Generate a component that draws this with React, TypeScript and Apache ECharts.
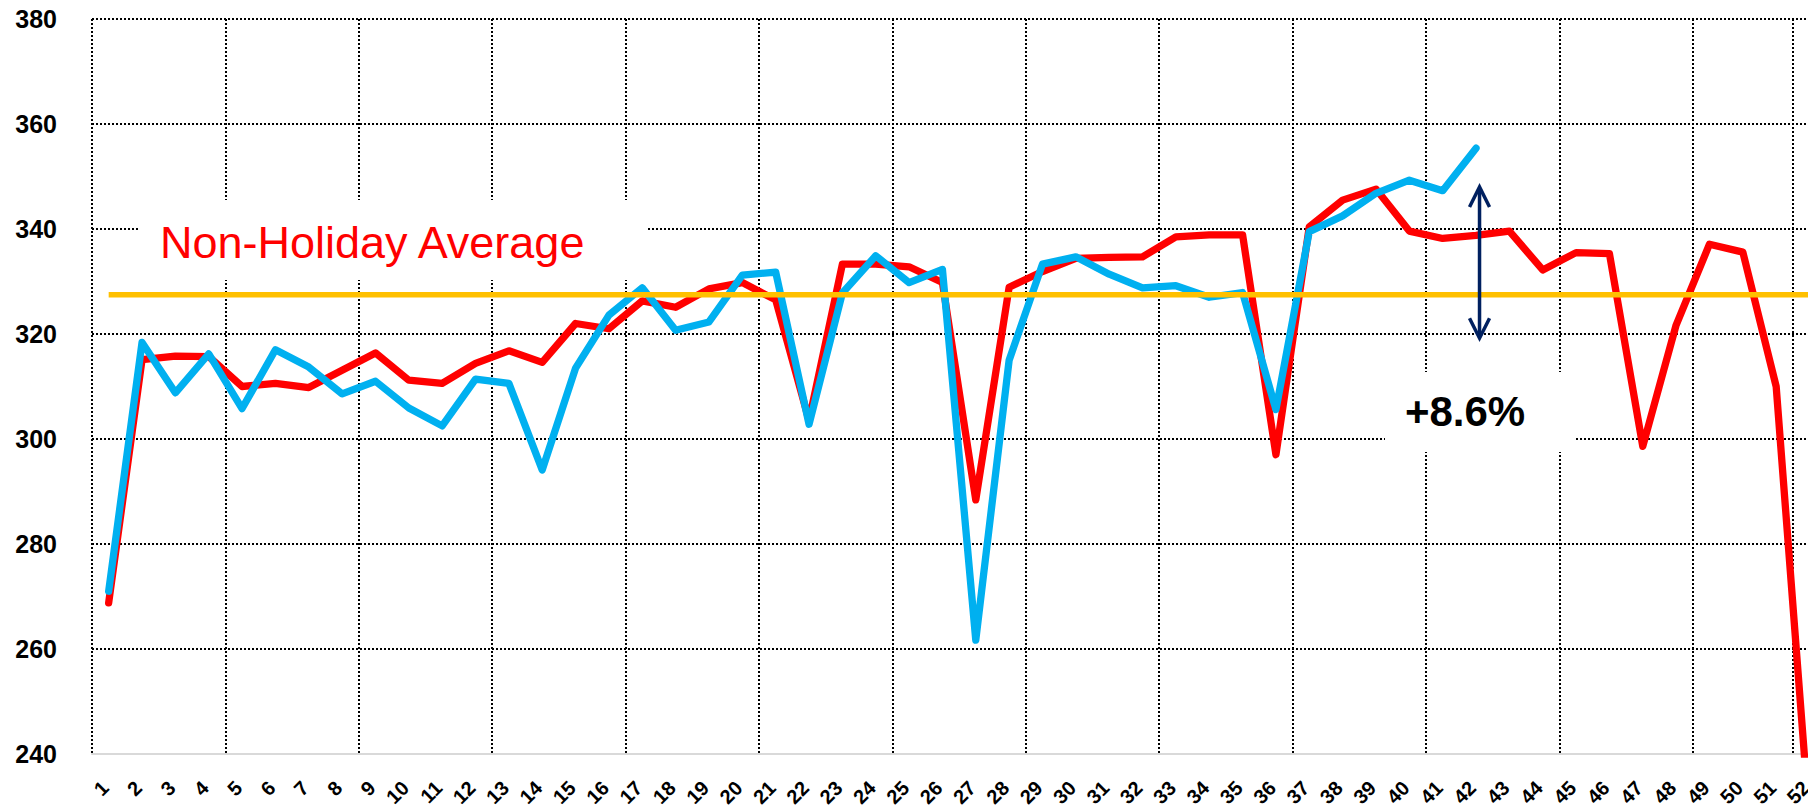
import { useEffect, useRef } from "react";
import * as echarts from "echarts";

const WEEKS = [
  "1", "2", "3", "4", "5", "6", "7", "8", "9", "10", "11", "12", "13",
  "14", "15", "16", "17", "18", "19", "20", "21", "22", "23", "24", "25", "26",
  "27", "28", "29", "30", "31", "32", "33", "34", "35", "36", "37", "38", "39",
  "40", "41", "42", "43", "44", "45", "46", "47", "48", "49", "50", "51", "52",
];

const PRIOR_YEAR = [
  268.8, 315.1, 315.8, 315.7, 310.0, 310.6, 309.8, 313.1, 316.4, 311.2, 310.6, 314.4, 316.8,
  314.6, 322.0, 321.0, 326.3, 325.1, 328.6, 329.8, 326.5, 303.5, 333.3, 333.3, 332.8, 329.8,
  288.4, 328.9, 331.9, 334.4, 334.6, 334.7, 338.5, 338.9, 338.9, 297.0, 340.4, 345.5, 347.6,
  339.6, 338.2, 338.8, 339.6, 332.2, 335.5, 335.3, 298.6, 321.7, 337.1, 335.6, 310.0, 227.0,
];

const CURRENT_YEAR = [
  271.0, 318.4, 308.8, 316.2, 305.8, 317.0, 313.7, 308.6, 311.0, 305.9, 302.5, 311.4, 310.6,
  294.1, 313.5, 323.6, 328.8, 320.7, 322.3, 331.2, 331.8, 302.8, 327.8, 334.9, 329.8, 332.3,
  261.7, 315.0, 333.3, 334.7, 331.4, 328.8, 329.2, 327.0, 327.9, 305.6, 339.5, 342.5, 346.8,
  349.3, 347.3, 355.4,
];

const NON_HOLIDAY_AVERAGE = 327.5;
const Y_MIN = 240;
const Y_MAX = 380;
const Y_STEP = 20;

const AVG_LABEL = "Non-Holiday Average";
const CHANGE_LABEL = "+8.6%";
const ARROW_WEEK = "42";
const ARROW_TOP = 348;
const ARROW_BOTTOM = 319.2;

const FONT = "'Liberation Sans', Arial, sans-serif";
const CHART_W = 1840;
const CHART_H = 810;
const BAND = 33.35;

export default function App() {
  const ref = useRef<HTMLDivElement>(null);

  useEffect(() => {
    if (!ref.current) return;
    const chart = echarts.init(ref.current, null, { renderer: "svg" });
    const gridLeft = 92;
    const gridRight = CHART_W - gridLeft - WEEKS.length * BAND;
    const dotted = { color: "#000", width: 2, type: [2, 2] as number[] };

    chart.setOption({
      animation: false,
      backgroundColor: "#ffffff",
      grid: {
        left: gridLeft,
        top: 19,
        right: gridRight,
        bottom: 56,
        containLabel: false,
        outerBoundsMode: "none",
      },
      xAxis: {
        type: "category",
        data: WEEKS,
        boundaryGap: true,
        axisLine: { show: true, lineStyle: { color: "#d9d9d9", width: 2 } },
        axisTick: { show: false },
        axisLabel: {
          interval: 0,
          rotate: 45,
          margin: 27,
          padding: [0, 5, 10, 0],
          fontSize: 20,
          fontWeight: "bold",
          color: "#000",
          fontFamily: FONT,
        },
        splitLine: { show: true, interval: 3, lineStyle: dotted },
      },
      yAxis: {
        type: "value",
        min: Y_MIN,
        max: Y_MAX,
        interval: Y_STEP,
        axisLine: { show: false },
        axisTick: { show: false },
        axisLabel: {
          margin: 35,
          fontSize: 25,
          fontWeight: "bold",
          color: "#000",
          fontFamily: FONT,
        },
        splitLine: { show: true, showMinLine: false, lineStyle: dotted },
      },
      series: [
        {
          name: "Prior Year",
          type: "line",
          data: PRIOR_YEAR,
          showSymbol: false,
          symbol: "none",
          z: 2,
          clip: true,
          lineStyle: { color: "#ff0000", width: 7.3, cap: "round", join: "round" },
        },
        {
          name: "Current Year",
          type: "line",
          data: CURRENT_YEAR,
          showSymbol: false,
          symbol: "none",
          z: 3,
          clip: true,
          lineStyle: { color: "#00b0f0", width: 7.3, cap: "round", join: "round" },
        },
        {
          name: AVG_LABEL,
          type: "line",
          data: [
            [WEEKS[0], NON_HOLIDAY_AVERAGE],
            [WEEKS[WEEKS.length - 1], NON_HOLIDAY_AVERAGE],
          ],
          showSymbol: false,
          symbol: "none",
          z: 4,
          lineStyle: { color: "#ffc000", width: 5.5 },
        },
      ],
    });

    const top = chart.convertToPixel({ gridIndex: 0 }, [ARROW_WEEK, ARROW_TOP]) as number[];
    const bottom = chart.convertToPixel({ gridIndex: 0 }, [ARROW_WEEK, ARROW_BOTTOM]) as number[];
    const ax = top[0] + 3.5;
    const navy = "#002060";
    const headW = 10;
    const headH = 20;

    chart.setOption({
      graphic: [
        {
          type: "rect",
          z: 1,
          shape: { x: 138, y: 200, width: 508, height: 80 },
          style: { fill: "#ffffff" },
        },
        {
          type: "text",
          z: 1,
          x: 160,
          y: 242,
          style: {
            text: AVG_LABEL,
            fill: "#ff0000",
            font: `normal 45px ${FONT}`,
            align: "left",
            verticalAlign: "middle",
          },
        },
        {
          type: "rect",
          z: 1,
          shape: { x: 1385, y: 372, width: 191, height: 80 },
          style: { fill: "#ffffff" },
        },
        {
          type: "text",
          z: 1,
          x: 1465,
          y: 411,
          style: {
            text: CHANGE_LABEL,
            fill: "#000000",
            font: `bold 42px ${FONT}`,
            align: "center",
            verticalAlign: "middle",
          },
        },
        {
          type: "line",
          z: 5,
          shape: { x1: ax, y1: top[1] + 1, x2: ax, y2: bottom[1] - 1 },
          style: { stroke: navy, lineWidth: 3.5 },
        },
        {
          type: "polyline",
          z: 5,
          shape: {
            points: [
              [ax - headW, top[1] + headH],
              [ax, top[1]],
              [ax + headW, top[1] + headH],
            ],
          },
          style: { stroke: navy, lineWidth: 3.5, fill: null, lineJoin: "miter" },
        },
        {
          type: "polyline",
          z: 5,
          shape: {
            points: [
              [ax - headW, bottom[1] - headH],
              [ax, bottom[1]],
              [ax + headW, bottom[1] - headH],
            ],
          },
          style: { stroke: navy, lineWidth: 3.5, fill: null, lineJoin: "miter" },
        },
      ],
    });

    return () => {
      chart.dispose();
    };
  }, []);

  return (
    <div
      style={{
        position: "fixed",
        left: 0,
        top: 0,
        width: 1808,
        height: 810,
        overflow: "hidden",
        background: "#ffffff",
      }}
    >
      <div ref={ref} style={{ width: CHART_W, height: CHART_H }} />
    </div>
  );
}
